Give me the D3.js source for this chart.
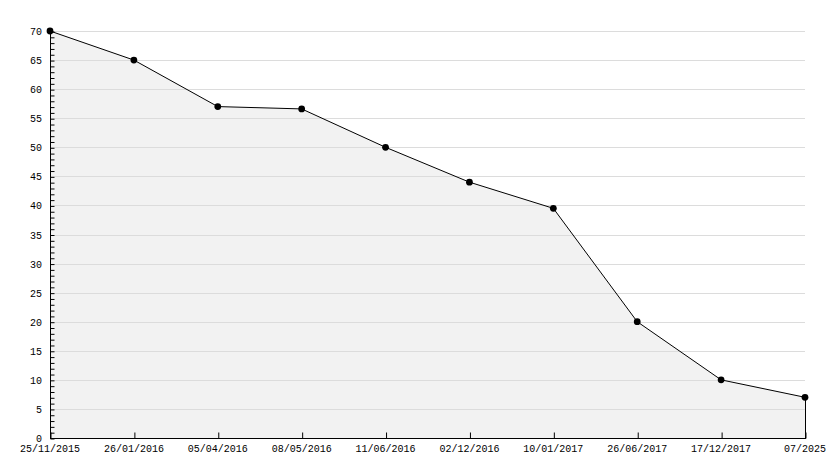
<!DOCTYPE html>
<html><head><meta charset="utf-8">
<script src="https://cdn.jsdelivr.net/npm/d3@7"></script>
<style>body{margin:0;background:#fff}svg{display:block}</style>
</head><body>
<script>
const categories = ["25/11/2015","26/01/2016","05/04/2016","08/05/2016","11/06/2016","02/12/2016","10/01/2017","26/06/2017","17/12/2017","07/2025"];
const values = [70, 65, 57, 56.6, 50, 44, 39.5, 20, 10, 7];
const yTicks = [0,5,10,15,20,25,30,35,40,45,50,55,60,65,70];

(function(){
const W = 834, H = 468;
const mL = 50, mR = 805, mT = 31, mB = 438;
const svg = d3.select("body").append("svg").attr("width", W).attr("height", H);
const font = "'Liberation Mono', 'DejaVu Sans Mono', monospace";

const x = d3.scalePoint().domain(categories).range([mL, mR]);
const y = d3.scaleLinear().domain([0, 70]).range([mB, mT]);

const data = categories.map((c, i) => ({c, v: values[i]}));

// area fill
svg.append("path").datum(data)
  .attr("d", d3.area().x(d => x(d.c)).y0(y(0)).y1(d => y(d.v)))
  .attr("fill", "#f2f2f2");

// gridlines
svg.append("g").selectAll("line").data(yTicks.filter(t => t > 0)).join("line")
  .attr("x1", mL).attr("x2", mR)
  .attr("y1", d => Math.round(y(d)) + 0.5).attr("y2", d => Math.round(y(d)) + 0.5)
  .attr("stroke", "#dcdcdc").attr("stroke-width", 1);

// right edge of area
const lastX = Math.round(x(categories[categories.length-1])) + 0.5;
svg.append("line")
  .attr("x1", lastX).attr("x2", lastX)
  .attr("y1", y(values[values.length-1])).attr("y2", mB)
  .attr("stroke", "#000");

// y axis
const yAxis = d3.axisRight(y).tickValues(d3.range(0, 71, 1)).tickSize(4).tickFormat("");
const gy = svg.append("g").attr("transform", `translate(${mL + 0.5},0.5)`).call(yAxis);
gy.select(".domain").remove();
gy.selectAll("line").attr("stroke", "#000");
svg.append("line").attr("x1", mL + 0.5).attr("x2", mL + 0.5).attr("y1", mT).attr("y2", mB + 0.5).attr("stroke", "#000");
svg.append("g").selectAll("text").data(yTicks).join("text")
  .attr("x", mL - 8).attr("y", d => y(d) + 4)
  .attr("text-anchor", "end").attr("font-family", font).attr("font-size", 10).attr("fill", "#000")
  .text(d => d);

// x axis
svg.append("line").attr("x1", mL).attr("x2", mR + 1).attr("y1", mB + 0.5).attr("y2", mB + 0.5).attr("stroke", "#000");
const xAxis = d3.axisTop(x).tickSize(6).tickFormat("");
const gx = svg.append("g").attr("transform", `translate(0.5,${mB + 0.5})`).call(xAxis);
gx.select(".domain").remove();
gx.selectAll("line").attr("stroke", "#000");
svg.append("g").selectAll("text").data(categories).join("text")
  .attr("x", d => x(d)).attr("y", mB + 14)
  .attr("text-anchor", "middle").attr("font-family", font).attr("font-size", 10).attr("fill", "#000")
  .text(d => d);

// line
svg.append("path").datum(data)
  .attr("d", d3.line().x(d => x(d.c)).y(d => y(d.v)))
  .attr("fill", "none").attr("stroke", "#000").attr("stroke-width", 1);

// markers
svg.append("g").selectAll("path").data(data).join("path")
  .attr("transform", d => `translate(${x(d.c)},${y(d.v)})`)
  .attr("d", d3.symbol().type(d3.symbolCircle).size(36))
  .attr("fill", "#000");
})();
</script>
</body></html>
